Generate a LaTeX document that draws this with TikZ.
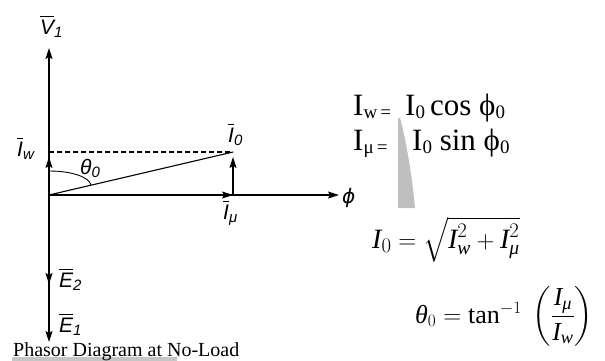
\documentclass[tikz,border=0pt]{standalone}
\usepackage{amsmath}
\usepackage{fontspec}
\setmainfont{Liberation Serif}
\newfontfamily\lsf{Liberation Sans}
\newfontfamily\dvs{DejaVu Sans}
\usetikzlibrary{arrows.meta}
\newcommand\ovl[1]{\mbox{$\overline{\mbox{#1}}$}}
\newcommand\sbs[1]{\raisebox{-3pt}{\fontsize{19}{19}\selectfont #1}}
\newcommand\lsb[1]{\raisebox{-3pt}{\fontsize{15}{15}\selectfont #1}}
\newcommand\ti[1]{\text{\itshape #1}}
\begin{document}
\begin{tikzpicture}[x=1pt,y=-1pt,
  arr/.style={-{Stealth[length=11pt,width=7pt,inset=2pt]}, line width=1.2pt},
  ax/.style={line width=1.2pt},
  lab/.style={anchor=base west, inner sep=0pt, font=\lsf\itshape\fontsize{21}{24}\selectfont},
  eqa/.style={anchor=base west, inner sep=0pt, font=\fontsize{31}{34}\selectfont},
  eqb/.style={anchor=base west, inner sep=0pt, font=\fontsize{28}{32}\selectfont}]
\useasboundingbox (0,0) rectangle (605,360);
\clip (0,0) rectangle (605,360);
% points
\coordinate (O) at (49,195);
\coordinate (Vt) at (49,48);
\coordinate (Iwt) at (49,157);
\coordinate (Iwd) at (49,152);
\coordinate (I0) at (233,152);
\coordinate (I0t) at (233,157);
\coordinate (Imu) at (233,195);
\coordinate (Phi) at (339,195);
\coordinate (E2t) at (49,284);
\coordinate (E1t) at (49,342);
\coordinate (A1) at (49,171);
\coordinate (A2) at (91,185);
% axes and phasors
\draw[arr] (O) -- (Vt);
\draw[arr] (O) -- (Iwt);
\draw[arr] (O) -- (E1t);
\draw[arr] (O) -- (E2t);
\draw[arr] (O) -- (Phi);
\draw[arr] (O) -- (Imu);
\draw[arr] (Imu) -- (I0t);
\draw[ax, dash pattern=on 5pt off 3pt] (Iwd) -- (I0);
\draw[line width=1.1pt] (O) -- (I0);
\draw[line width=0.9pt] (A1) .. controls (72,171) and (89,177) .. (A2);
% labels
\node[lab] (lV) at (40,34) {\ovl{V}\lsb{1}};
\node[lab] (lIw) at (17,156) {\ovl{I}\lsb{w}};
\node[lab] (lth) at (80,174) {θ\lsb{0}};
\node[lab] (lI0) at (228,142) {\ovl{I}\lsb{0}};
\node[lab] (lImu) at (223,219) {\ovl{I}\lsb{μ}};
\node[lab] (lE2) at (59,287) {\ovl{E}\lsb{2}};
\node[lab] (lE1) at (59,332) {\ovl{E}\lsb{1}};
\node[lab, font=\dvs\itshape\fontsize{20}{22}\selectfont] (lphi) at (342,203) {ϕ};
% grey wedge
\fill[gray!50] (398,118) -- (398,208) -- (415,208) .. controls (411,165) and (404,132) .. (400,118) -- cycle;
% equations
\node[eqa] (e1a) at (353,115) {I\sbs{w\,=}};
\node[eqa] (e1b) at (405,115) {I\sbs{0}\,cos ϕ\sbs{0}};
\node[eqa] (e2a) at (353,150) {I\sbs{μ\,=}};
\node[eqa] (e2b) at (412,150) {I\sbs{0} sin ϕ\sbs{0}};
\node[eqb] (f1) at (372,248) {$\ti{I}_{0} = \sqrt{\ti{I}_{\ti{w}}^{2} + \ti{I}_{\ti{μ}}^{2}}$};
\node[eqb, font=\fontsize{26}{30}\selectfont] (f2) at (415,323) {$\ti{θ}_{0} = \mathrm{tan}^{-1}\;\left(\rule[-26pt]{0pt}{62pt}\dfrac{\ti{I}_{\ti{μ}}}{\ti{I}_{\ti{w}}}\right)$};
% caption
\fill[gray!45] (12,357) rectangle (177,361);
\node[anchor=base west, inner sep=0pt, font=\fontsize{20}{23}\selectfont] (cap) at (13,356) {Phasor Diagram at No-Load};
\end{tikzpicture}
\end{document}
